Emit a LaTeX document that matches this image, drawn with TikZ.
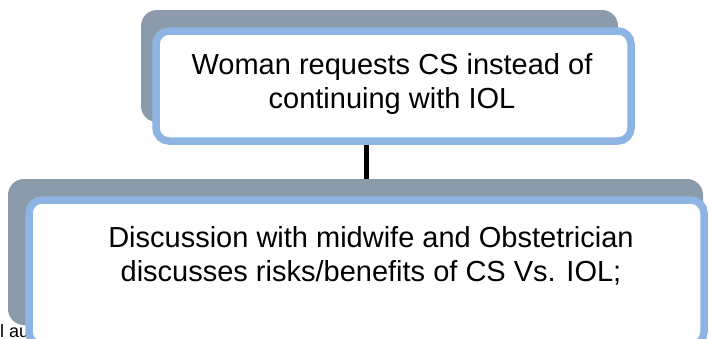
\documentclass[tikz,border=0pt]{standalone}
\usepackage{fontspec}
\setmainfont{Liberation Sans}
\usepackage{xcolor}
\usetikzlibrary{calc}

\definecolor{backgray}{RGB}{140,155,171}
\definecolor{frameblue}{RGB}{142,180,227}

\begin{document}
\begin{tikzpicture}[x=1pt,y=-1pt,
    grayback/.style={rectangle,rounded corners=16pt,fill=backgray,draw=none,
        inner sep=0pt,outer sep=0pt},
    bluebox/.style={rectangle,rounded corners=13pt,fill=white,draw=frameblue,
        line width=7.5pt,inner sep=0pt},
    boxtext/.style={align=center,inner sep=0pt,
        font=\fontsize{29}{33.5}\selectfont}]

\useasboundingbox (0,0) rectangle (710,338);

% left over text behind the lower box
\node[anchor=base west,inner sep=0pt,font=\fontsize{18}{21}\selectfont] (scrap) at (0,337) {l au};

% upper step
\node[grayback,minimum width=477pt,minimum height=112pt] (topback) at (379.5,66) {};
\node[bluebox,minimum width=475pt,minimum height=110pt] (topbox) at (393.5,86) {};
\node[boxtext] (toptext) at (392,84) {Woman requests CS instead of\\continuing with IOL};

% lower step
\node[grayback,minimum width=695pt,minimum height=146pt] (botback) at (355.5,252) {};
\node[bluebox,minimum width=675pt,minimum height=145pt] (botbox) at (366.5,272.5) {};
\node[boxtext] (bottext) at (371,256) {Discussion with midwife and Obstetrician\\discusses risks/benefits of CS Vs. IOL;};

% link between the steps
\draw [color=black,line width=4.5pt] (topbox.south -| botbox.north) -- (botback.north -| botbox.north);

\end{tikzpicture}
\end{document}
